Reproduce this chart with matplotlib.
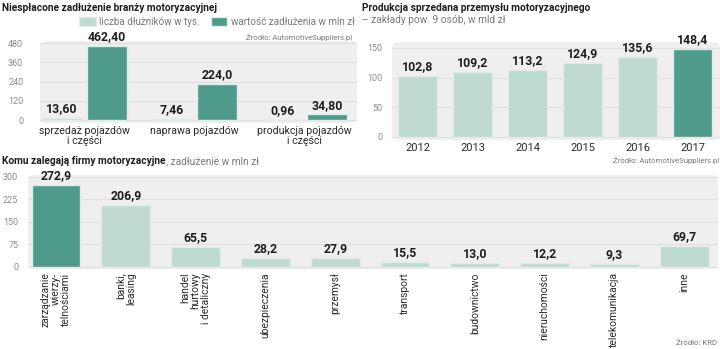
import matplotlib.pyplot as plt
from matplotlib.patches import FancyBboxPatch

plt.rcParams['font.family'] = ['Roboto', 'DejaVu Sans']

DARK = '#4e9b8b'
LIGHT = '#bfdad2'
EDGE = '#e2ebe8'
PANEL = '#efefef'
GRID = '#e0e0e0'
TICK = '#8c8c8c'
TEXT = '#1e1e1e'
NOTE = '#7a7a7a'

# unpaid debt of the automotive branch
debt_cats = ['sprzedaż pojazdów\ni części', 'naprawa pojazdów', 'produkcja pojazdów\ni części']
debtors = [13.60, 7.46, 0.96]
debtors_lbl = ['13,60', '7,46', '0,96']
debt_value = [462.40, 224.0, 34.80]
debt_value_lbl = ['462,40', '224,0', '34,80']

# sold production, bln zl
years = ['2012', '2013', '2014', '2015', '2016', '2017']
production = [102.8, 109.2, 113.2, 124.9, 135.6, 148.4]

# who the companies owe money to, mln zl
creditors = ['zarządzanie\nwierzy-\ntelnościami', 'banki,\nleasing', 'handel\nhurtowy\ni detaliczny',
             'ubezpieczenia', 'przemysł', 'transport', 'budownictwo', 'nieruchomości',
             'telekomunikacja', 'inne']
creditor_debt = [272.9, 206.9, 65.5, 28.2, 27.9, 15.5, 13.0, 12.2, 9.3, 69.7]


def pl(v):
    return f'{v:.1f}'.replace('.', ',')


fig = plt.figure(figsize=(7.2, 3.49), dpi=100)
W, H = 720, 349
VAL = dict(fontsize=8.8, fontweight='bold', color=TEXT)


def add_ax(left, top, right, bottom):
    return fig.add_axes([left / W, 1 - bottom / H, (right - left) / W, (bottom - top) / H])


def style(ax, ylim, yticks, ypad, rounding):
    ax.set_ylim(*ylim)
    ax.set_yticks(yticks)
    for s in ax.spines.values():
        s.set_visible(False)
    ax.set_facecolor('none')
    ax.tick_params(length=0)
    ax.tick_params(axis='y', labelsize=6.5, labelcolor=TICK, pad=ypad)
    ax.grid(axis='y', color=GRID, lw=0.8)
    ax.set_axisbelow(True)
    w, h = ax.bbox.width, ax.bbox.height
    ax.add_patch(FancyBboxPatch((0, 0), 1, 1, boxstyle=f'round,pad=0,rounding_size={rounding}',
                                transform=ax.transAxes, mutation_aspect=w / h,
                                fc=PANEL, ec='none', zorder=-1, clip_on=False))


# --- top left: debt by branch
ax1 = add_ax(40, 41, 357, 123)
style(ax1, (-18.7, 492.5), [0, 120, 240, 360, 480], 12, 0.02)
x = range(len(debt_cats))
b1 = ax1.bar([i - 0.205 for i in x], debtors, width=0.36, color=LIGHT, edgecolor=EDGE, lw=1)
b2 = ax1.bar([i + 0.205 for i in x], debt_value, width=0.36, color=DARK, edgecolor=EDGE, lw=1)
ax1.bar_label(b1, labels=debtors_lbl, padding=2, **VAL)
ax1.bar_label(b2, labels=debt_value_lbl, padding=2, **VAL)
ax1.set_xlim(-0.405, 2.475)
ax1.set_xticks(list(x))
ax1.set_xticklabels(debt_cats, fontsize=7.6, color='#2a2a2a', linespacing=1.0)
ax1.tick_params(axis='x', pad=2)

fig.text(2 / W, 1 - 8 / H, 'Niespłacone zadłużenie branży motoryzacyjnej',
         fontsize=7.3, fontweight='bold', color=TEXT, va='center')
fig.legend(handles=[b1, b2], labels=['liczba dłużników w tys.', 'wartość zadłużenia w mln zł'],
           loc='center left', bbox_to_anchor=(79 / W, 1 - 22 / H), ncol=2, frameon=False,
           fontsize=7.1, labelcolor=NOTE, handlelength=1.7, handleheight=1.0,
           handletextpad=0.35, columnspacing=1.1, borderpad=0, borderaxespad=0)
fig.text(352 / W, 1 - 37 / H, 'Źródło: AutomotiveSuppliers.pl', ha='right', va='center',
         fontsize=5.6, color=NOTE)

# --- top right: sold production
ax2 = add_ax(392, 42, 720, 140)
style(ax2, (-5.1, 160.1), [0, 50, 100, 150], 7, 0.02)
cols = [LIGHT] * (len(years) - 1) + [DARK]
b3 = ax2.bar(range(len(years)), production, width=0.71, color=cols, edgecolor=EDGE, lw=1)
ax2.bar_label(b3, labels=[pl(v) for v in production], padding=2, **VAL)
ax2.set_xlim(-0.464, 5.5)
ax2.set_xticks(range(len(years)))
ax2.set_xticklabels(years, fontsize=8, color='#2a2a2a')
ax2.tick_params(axis='x', pad=2.5)

fig.text(362 / W, 1 - 8 / H, 'Produkcja sprzedana przemysłu motoryzacyjnego',
         fontsize=7.3, fontweight='bold', color=TEXT, va='center')
fig.text(362 / W, 1 - 20 / H, '– zakłady pow. 9 osób, w mld zł',
         fontsize=7.3, color=NOTE, va='center')
fig.text(719 / W, 1 - 160 / H, 'Źródło: AutomotiveSuppliers.pl', ha='right', va='center',
         fontsize=5.6, color=NOTE)

# --- bottom: creditors
ax3 = add_ax(28, 175, 718, 269)
style(ax3, (-7.6, 305.6), [0, 75, 150, 225, 300], 7, 0.01)
cols = [DARK] + [LIGHT] * (len(creditors) - 1)
b4 = ax3.bar(range(len(creditors)), creditor_debt, width=0.70, color=cols, edgecolor=EDGE, lw=1)
ax3.bar_label(b4, labels=[pl(v) for v in creditor_debt], padding=2, **VAL)
ax3.set_xlim(-0.401, 9.484)
ax3.set_xticks(range(len(creditors)))
ax3.set_xticklabels(creditors, fontsize=7.4, color='#2a2a2a', rotation=90,
                    ha='center', va='top', multialignment='right', linespacing=1.0)
ax3.tick_params(axis='x', pad=2.5)

t = fig.text(2 / W, 1 - 161 / H, 'Komu zalegają firmy motoryzacyjne',
             fontsize=7.3, fontweight='bold', color=TEXT, va='center')
ax3.annotate(', zadłużenie w mln zł', xy=(1, 0), xycoords=t, va='bottom',
             fontsize=7.3, color=NOTE, annotation_clip=False)
fig.text(717 / W, 1 - 343 / H, 'Źródło: KRD', ha='right', va='center', fontsize=5.6, color=NOTE)

fig.savefig('out.png', dpi=100)
